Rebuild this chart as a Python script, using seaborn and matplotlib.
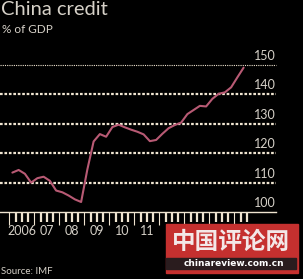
import matplotlib
matplotlib.use("Agg")
import matplotlib.pyplot as plt
import matplotlib.transforms as mtransforms
from matplotlib.patches import Rectangle
import seaborn as sns

# quarterly points (mid-quarter, decimal years)
quarters = [2006.125 + 0.25 * i for i in range(38)]
credit = [113.4, 114.3, 113.0, 110.0, 111.5, 112.0, 110.6, 107.3,
          106.7, 105.6, 104.3, 103.4, 114.5, 124.0, 126.5, 125.6,
          128.9, 129.7, 128.8, 128.0, 127.3, 126.4, 124.1, 124.5,
          126.6, 128.5, 129.6, 130.4, 133.3, 134.7, 136.1, 135.9,
          138.5, 140.2, 140.7, 142.4, 145.8, 149.1]

years = list(range(2006, 2016))
# only the labels not hidden by the watermark
label_years = [2006, 2007, 2008, 2009, 2010, 2011]
year_labels = ["2006", "07", "08", "09", "10", "11"]
y_ticks = [100, 110, 120, 130, 140, 150]

bg = "black"
text_col = "#d6d1c8"
grid_col = "#efe4d0"
line_col = "#b85a74"

sns.set_style("dark", {"axes.facecolor": bg, "figure.facecolor": bg})
plt.rcParams['font.family'] = ['Lato', 'DejaVu Sans']

fig = plt.figure(figsize=(3.03, 2.79), dpi=100)
ax = fig.add_axes([0, 1 - 212 / 279, 276 / 303, (212 - 65) / 279])

sns.lineplot(x=quarters, y=credit, ax=ax, color=line_col, linewidth=1.5, zorder=3)

ax.set_xlim(2005.63, 2016.67)
ax.set_ylim(100, 150)
ax.set_xlabel("")
ax.set_ylabel("")
for s in ["top", "right", "left"]:
    ax.spines[s].set_visible(False)
ax.spines["bottom"].set_color(grid_col)
ax.spines["bottom"].set_linewidth(1.0)

# gridlines
for v in y_ticks[1:]:
    if v == 150:
        ax.axhline(v, color=grid_col, lw=0.8, ls=(0, (1, 1)), clip_on=False, zorder=1)
    else:
        ax.axhline(v, color=grid_col, lw=1.6, ls=(0, (1.2, 0.8)), clip_on=False, zorder=1)

# y labels above the gridlines on the right
ytrans = mtransforms.offset_copy(ax.get_yaxis_transform(), fig=fig, y=3, units='dots')
ax.set_yticks([])
for v in y_ticks:
    ax.text(1.0, v, str(v), transform=ytrans, ha='right', va='bottom',
            fontsize=9, color=text_col)

# x ticks: years as major, quarters as minor
ax.set_xticks(years)
ax.set_xticklabels([])
minor = [y + q / 4 for y in years for q in (1, 2, 3)]
minor = [m for m in minor if m <= 2015.5]
ax.set_xticks(minor, minor=True)
ax.tick_params(axis='x', which='major', length=9, width=0.8, color=grid_col, direction='out', bottom=True)
ax.tick_params(axis='x', which='minor', length=7, width=1.6, color=grid_col, direction='out', bottom=True)

xtrans = mtransforms.blended_transform_factory(ax.transData, fig.transFigure)
for y, lab in zip(label_years, year_labels):
    ax.text(y + 0.5, 1 - 231 / 279, lab, transform=xtrans, ha='center', va='center',
            fontsize=9, color=text_col)

fig.text(0.003, 1 - 1 / 279, "China credit", ha='left', va='top', fontsize=14.5, color=text_col)
fig.text(0.007, 1 - 29.5 / 279, "% of GDP", ha='left', va='center', fontsize=8.5, color=text_col)
fig.text(0.003, 1 - 272 / 279, "Source: IMF", ha='left', va='center', fontsize=7, color=text_col)

# site watermark box
fig.patches.append(Rectangle((166 / 303, 1 - 273 / 279), 132 / 303, 49 / 279,
                             transform=fig.transFigure, color="#c5302f", zorder=5))
fig.patches.append(Rectangle((166 / 303, 1 - 269 / 279), 130 / 303, 11 / 279,
                             transform=fig.transFigure, color="#2a1c1e", zorder=6))
fig.text(231 / 303, 1 - 242 / 279, "中国评论网", ha='center', va='center', fontsize=17,
         fontweight='bold', color="#f3e8e8", family=['Noto Sans CJK SC', 'DejaVu Sans'], zorder=7)
fig.text(234 / 303, 1 - 263.5 / 279, "chinareview.com.cn", ha='center', va='center', fontsize=6.5,
         fontweight='bold', color="white", family=['DejaVu Sans'], zorder=7)

fig.savefig("out.png", dpi=100, facecolor=bg)
